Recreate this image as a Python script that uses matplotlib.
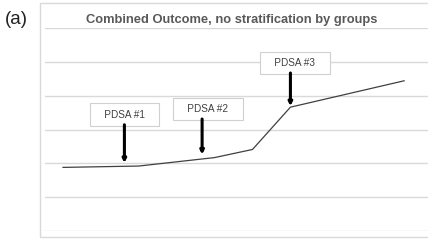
import matplotlib.pyplot as plt
from matplotlib.patches import Rectangle

plt.rcParams['font.family'] = ['Liberation Sans', 'DejaVu Sans']

# data
months = [0, 2, 4, 5, 6, 9]
outcome = [1.88, 1.92, 2.17, 2.41, 3.66, 4.44]

pdsa_labels = ["PDSA #1", "PDSA #2", "PDSA #3"]
pdsa_x = [1.62, 3.67, 6.0]
pdsa_tip = [2.01, 2.26, 3.69]
pdsa_box_x = [1.62, 3.82, 6.12]
pdsa_box_y = [3.44, 3.61, 4.97]

fig = plt.figure(figsize=(4.28, 2.40), dpi=100)
ax = fig.add_axes([45 / 428, 9 / 240, 383 / 428, 203 / 240])

# chart-area border
fig.patches.append(Rectangle((40 / 428, 3 / 240), 1.0, 234 / 240, transform=fig.transFigure,
                             fill=False, edgecolor='#d9d9d9', lw=1.0))

ax.set_xlim(-0.475, 9.63)
ax.set_ylim(0, 6)
ax.set_yticks(range(7))
ax.grid(axis='y', color='#d9d9d9', lw=1.0)
ax.set_axisbelow(True)
ax.tick_params(left=False, bottom=False, labelleft=False, labelbottom=False)
for s in ax.spines.values():
    s.set_visible(False)
ax.patch.set_alpha(0)

ax.plot(months, outcome, color='#404040', lw=0.9)

for lab, x, tip, bx, by in zip(pdsa_labels, pdsa_x, pdsa_tip, pdsa_box_x, pdsa_box_y):
    ax.text(bx, by, "   " + lab + "   ", ha='center', va='center', fontsize=7.2, color='#404040',
            bbox=dict(boxstyle='square,pad=0.62', fc='white', ec='#d0d0d0', lw=0.8), zorder=4)
    ax.annotate("", xy=(x, tip), xytext=(x, by - 0.3),
                arrowprops=dict(arrowstyle='-|>,head_length=0.2,head_width=0.1', color='black',
                                lw=2.2, shrinkA=0, shrinkB=0), zorder=5)

fig.text(232 / 428, 1 - 20 / 240, "Combined Outcome, no stratification by groups",
         ha='center', va='center', fontsize=9.3, fontweight='bold', color='#595959')
fig.text(5 / 428, 1 - 19 / 240, "(a)", ha='left', va='center', fontsize=13.5, color='#222222')

fig.savefig("out.png", dpi=100)
